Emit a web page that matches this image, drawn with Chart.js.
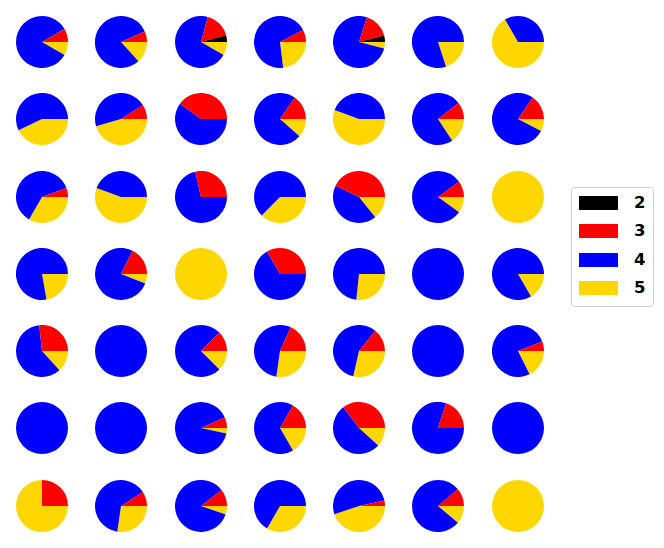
<!DOCTYPE html>
<html>
<head>
<meta charset="utf-8">
<script src="https://cdn.jsdelivr.net/npm/chart.js@4.4.1/dist/chart.umd.min.js"></script>
<style>
  body { margin: 0; background: #fff; width: 664px; height: 548px; position: relative; overflow: hidden; }
  .pie { position: absolute; width: 52px; height: 52px; }
  .leyenda { position: absolute; left: 571px; top: 187px; width: 81px; height: 118px;
             border: 1px solid #d0d0d0; border-radius: 4px; background: #fff;
             font-family: "DejaVu Sans", sans-serif; font-weight: bold; font-size: 16.5px; }
  .item { position: absolute; left: 7px; height: 14px; }
  .item span.caja { position: absolute; left: 0; top: 0; width: 39px; height: 14px; }
  .item span.txt { position: absolute; left: 55px; top: -3px; line-height: 20px; }
</style>
</head>
<body>
<div id="grid"></div>
<div class="leyenda" id="leyenda"></div>
<script>
const etiquetas = ["2", "3", "4", "5"];
const colores = ["#000000", "#ff0000", "#0000ff", "#ffd700"];

// conteos por nota, 7x7 tortas (fila por fila)
const nota2 = [
  0, 0, 1, 0, 1, 0, 0,
  0, 0, 0, 0, 0, 0, 0,
  0, 0, 0, 0, 0, 0, 0,
  0, 0, 0, 0, 0, 0, 0,
  0, 0, 0, 0, 0, 0, 0,
  0, 0, 0, 0, 0, 0, 0,
  0, 0, 0, 0, 0, 0, 0
];
const nota3 = [
  1, 1, 4, 1, 4, 0, 0,
  0, 1, 2, 4, 0, 2, 2,
  1, 0, 2, 0, 3, 1, 0,
  0, 3, 0, 1, 0, 0, 0,
  4, 0, 1, 2, 1, 0, 1,
  0, 0, 2, 1, 6, 1, 0,
  1, 1, 2, 0, 1, 1, 0
];
const nota4 = [
  10, 12, 17, 9, 19, 4, 1,
  4, 5, 3, 19, 4, 14, 10,
  11, 4, 5, 5, 3, 8, 0,
  7, 13, 0, 2, 11, 1, 5,
  9, 1, 6, 6, 4, 1, 13,
  1, 1, 27, 4, 9, 4, 1,
  0, 7, 16, 2, 15, 7, 0
];
const nota5 = [
  1, 2, 2, 3, 1, 1, 2,
  3, 5, 0, 3, 5, 3, 1,
  6, 5, 0, 3, 1, 1, 1,
  2, 1, 1, 0, 4, 0, 1,
  2, 0, 1, 3, 2, 0, 3,
  0, 0, 1, 1, 2, 0, 0,
  3, 3, 1, 1, 13, 1, 1
];

const grid = document.getElementById('grid');
for (let i = 0; i < 49; i++) {
  const fila = Math.floor(i / 7);
  const col = i % 7;
  const cx = 42 + 79.25 * col;
  const cy = 42 + 77.25 * fila;
  const div = document.createElement('div');
  div.className = 'pie';
  div.style.left = (cx - 26) + 'px';
  div.style.top = (cy - 26) + 'px';
  const canvas = document.createElement('canvas');
  canvas.width = 52;
  canvas.height = 52;
  div.appendChild(canvas);
  grid.appendChild(div);

  // matplotlib va antihorario desde las 3; aqui se invierte el orden y se gira 90
  new Chart(canvas.getContext('2d'), {
    type: 'pie',
    data: {
      labels: etiquetas.slice().reverse(),
      datasets: [{
        data: [nota5[i], nota4[i], nota3[i], nota2[i]],
        backgroundColor: colores.slice().reverse(),
        borderWidth: 0
      }]
    },
    options: {
      responsive: false,
      animation: false,
      rotation: 90,
      layout: { padding: 0 },
      plugins: { legend: { display: false }, tooltip: { enabled: false } }
    }
  });
}

const leyenda = document.getElementById('leyenda');
etiquetas.forEach((et, k) => {
  const item = document.createElement('div');
  item.className = 'item';
  item.style.top = (8 + 28.3 * k) + 'px';
  item.innerHTML = '<span class="caja" style="background:' + colores[k] + '"></span><span class="txt">' + et + '</span>';
  leyenda.appendChild(item);
});
</script>
</body>
</html>
